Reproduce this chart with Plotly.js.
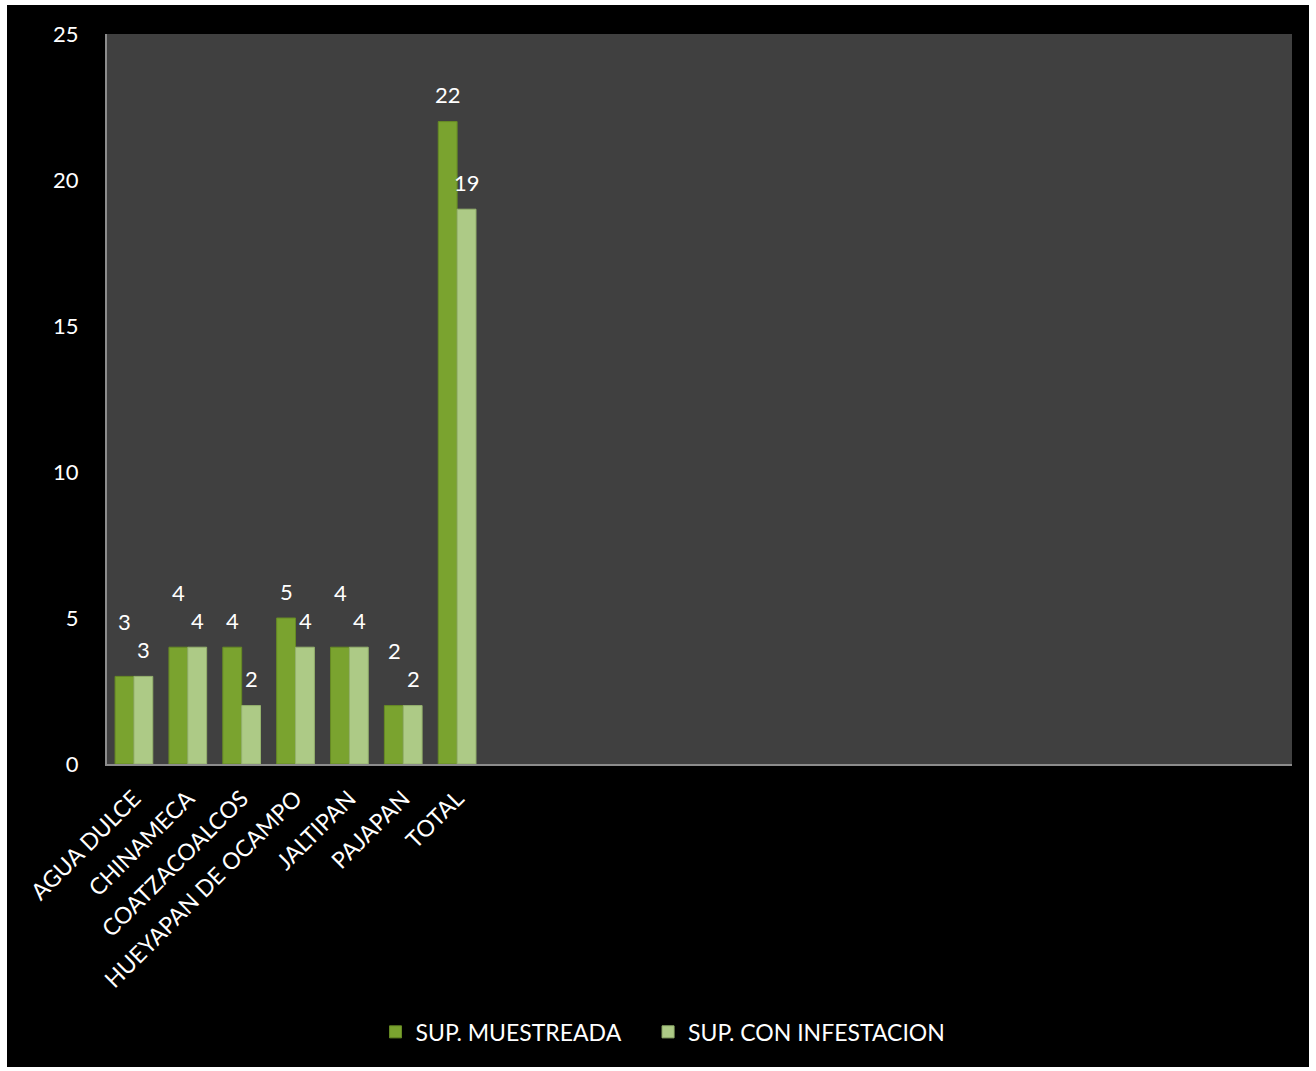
<!DOCTYPE html>
<html><head><meta charset="utf-8">
<script src="https://cdn.plot.ly/plotly-3.0.1.min.js"></script>
<style>html,body{margin:0;padding:0;background:#fff;}#chart{position:absolute;left:7px;top:5px;width:1302px;height:1062px;}</style>
</head><body><div id="chart"></div>
<script>
const categories = ["AGUA DULCE","CHINAMECA","COATZACOALCOS","HUEYAPAN DE OCAMPO","JALTIPAN","PAJAPAN","TOTAL"];
const supMuestreada = [3,4,4,5,4,2,22];
const supInfestacion = [3,4,2,4,4,2,19];
const seriesNames = ["SUP. MUESTREADA","SUP. CON INFESTACION"];
const yTicks = [0,5,10,15,20,25];

const FONT = "Lato, 'Liberation Sans', sans-serif";
const colA = "#7aa32f", colB = "#adca86";

const traces = [
  {type:"bar", name:seriesNames[0], x:categories, y:supMuestreada, legend:"legend",
   marker:{color:colA, line:{color:"#668a24", width:1}}},
  {type:"bar", name:seriesNames[1], x:categories, y:supInfestacion, legend:"legend2",
   marker:{color:colB, line:{color:"#95b26e", width:1}}}
];

const annotations = [];
categories.forEach((c,i)=>{
  const same = supMuestreada[i] === supInfestacion[i];
  annotations.push({x:c, y:supMuestreada[i], xref:"x", yref:"y", text:String(supMuestreada[i]),
    showarrow:false, xshift:-9, yshift: same ? 55 : 27, font:{color:"#fff", size:22, family:FONT}});
  annotations.push({x:c, y:supInfestacion[i], xref:"x", yref:"y", text:String(supInfestacion[i]),
    showarrow:false, xshift:10, yshift:27, font:{color:"#fff", size:22, family:FONT}});
});

const legendBase = {orientation:"h", y:-0.367, yanchor:"middle", xanchor:"left",
  font:{size:23, color:"#fff"}, itemwidth:30, bgcolor:"rgba(0,0,0,0)"};

const layout = {
  width:1302, height:1062,
  paper_bgcolor:"#000", plot_bgcolor:"#404040",
  margin:{l:100, r:17, t:29, b:303},
  barmode:"group", bargap:0.3, bargroupgap:0,
  font:{family:FONT, color:"#fff", size:22},
  xaxis:{type:"category", range:[-0.5,21.5], tickangle:-45, showgrid:false,
    showline:true, linecolor:"#8c8c8c", linewidth:2, ticks:"", ticklabelstandoff:10,
    tickfont:{size:23, color:"#fff"}, fixedrange:true},
  yaxis:{range:[0,25], tickvals:yTicks, showgrid:false, zeroline:false,
    showline:true, linecolor:"#8c8c8c", linewidth:2, ticks:"", ticklabelstandoff:22,
    tickfont:{size:22, color:"#fff"}},
  showlegend:true,
  legend:Object.assign({}, legendBase, {x:0.2266}),
  legend2:Object.assign({}, legendBase, {x:0.4566}),
  annotations:annotations
};
Plotly.newPlot("chart", traces, layout, {displayModeBar:false, staticPlot:true});
</script></body></html>
